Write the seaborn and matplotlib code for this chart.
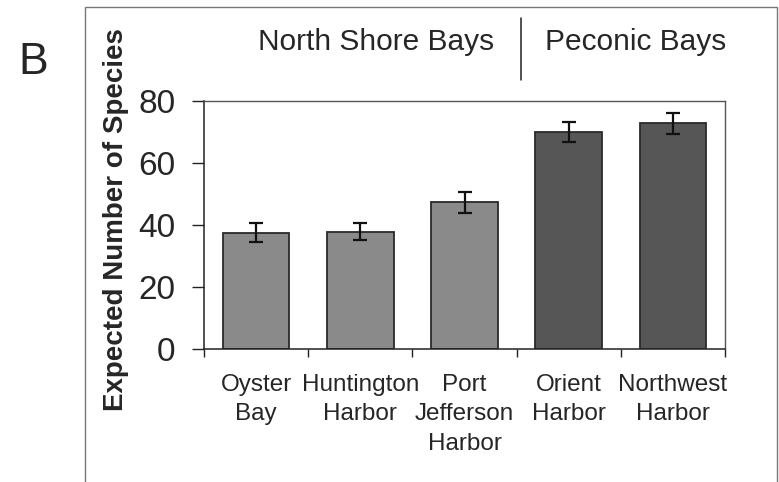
import matplotlib
matplotlib.use("Agg")
import matplotlib.pyplot as plt
import seaborn as sns
import pandas as pd
import numpy as np
from matplotlib.patches import Rectangle
from matplotlib.lines import Line2D

categories = ["Oyster\nBay", "Huntington\nHarbor", "Port\nJefferson\nHarbor", "Orient\nHarbor", "Northwest\nHarbor"]
values = [37.5, 37.8, 47.3, 69.8, 72.7]
errors = [3.1, 2.7, 3.4, 3.2, 3.3]
groups = ["North Shore Bays", "North Shore Bays", "North Shore Bays", "Peconic Bays", "Peconic Bays"]
group_colors = {"North Shore Bays": "#8a8a8a", "Peconic Bays": "#565656"}
yticks = [0, 20, 40, 60, 80]

sns.set_theme(style="white")
plt.rcParams["font.family"] = ["Liberation Sans", "DejaVu Sans"]

df = pd.DataFrame({"site": categories, "value": values, "err": errors, "group": groups})

fig = plt.figure(figsize=(7.79, 4.82), dpi=100)
ax = fig.add_axes([204/779, 1-349.3/482, 521/779, 248.6/482])

sns.barplot(data=df, x="site", y="value", hue="group", palette=group_colors,
            dodge=False, width=0.64, edgecolor="#2a2a2a", linewidth=1.3,
            legend=False, ax=ax, errorbar=None)

ax.errorbar(np.arange(len(categories)), df["value"], yerr=df["err"], fmt="none",
            ecolor="#111111", elinewidth=1.6, capsize=4.9, capthick=1.6, zorder=5)

ax.set_ylim(0, 80)
ax.set_xlim(-0.5, len(categories) - 0.5)
ax.set_yticks(yticks)
ax.set_yticklabels([str(t) for t in yticks], fontsize=24)
ax.set_xticks(np.arange(len(categories)))
ax.set_xticklabels(categories, fontsize=17.5, linespacing=1.42)
ax.set_xticks(np.arange(len(categories) + 1) - 0.5, minor=True)
ax.tick_params(axis="x", which="major", length=0, pad=18)
ax.tick_params(axis="x", which="minor", length=5.5, width=1, color="#222222", direction="out", bottom=True)
ax.tick_params(axis="y", which="major", length=8.5, width=1, color="#222222", direction="out", left=True, pad=12)
ax.set_xlabel("")
ax.set_ylabel("Expected Number of Species", fontsize=20, fontweight="bold")
ax.yaxis.set_label_coords(-0.144, 0.52)

for s in ["left", "bottom"]:
    ax.spines[s].set_color("#222222")
    ax.spines[s].set_linewidth(1.1)
for s in ["top", "right"]:
    ax.spines[s].set_color("#555555")
    ax.spines[s].set_linewidth(1.0)

# outer frame
fig.patches.append(Rectangle((85/779, -0.01), 691.7/779, 1 - 7/482 + 0.01, transform=fig.transFigure,
                             fill=False, edgecolor="#777777", linewidth=1.0))

fig.text(33/779, 1 - 62/482, "B", fontsize=32, ha="center", va="center")
fig.text(376.5/779, 1 - 42/482, "North Shore Bays", fontsize=21.5, ha="center", va="center")
fig.text(636/779, 1 - 42/482, "Peconic Bays", fontsize=21.5, ha="center", va="center")
fig.lines.append(Line2D([521/779, 521/779], [1 - 18/482, 1 - 80/482], transform=fig.transFigure,
                        color="#222222", linewidth=1.1))

fig.savefig("out.png", dpi=100)
